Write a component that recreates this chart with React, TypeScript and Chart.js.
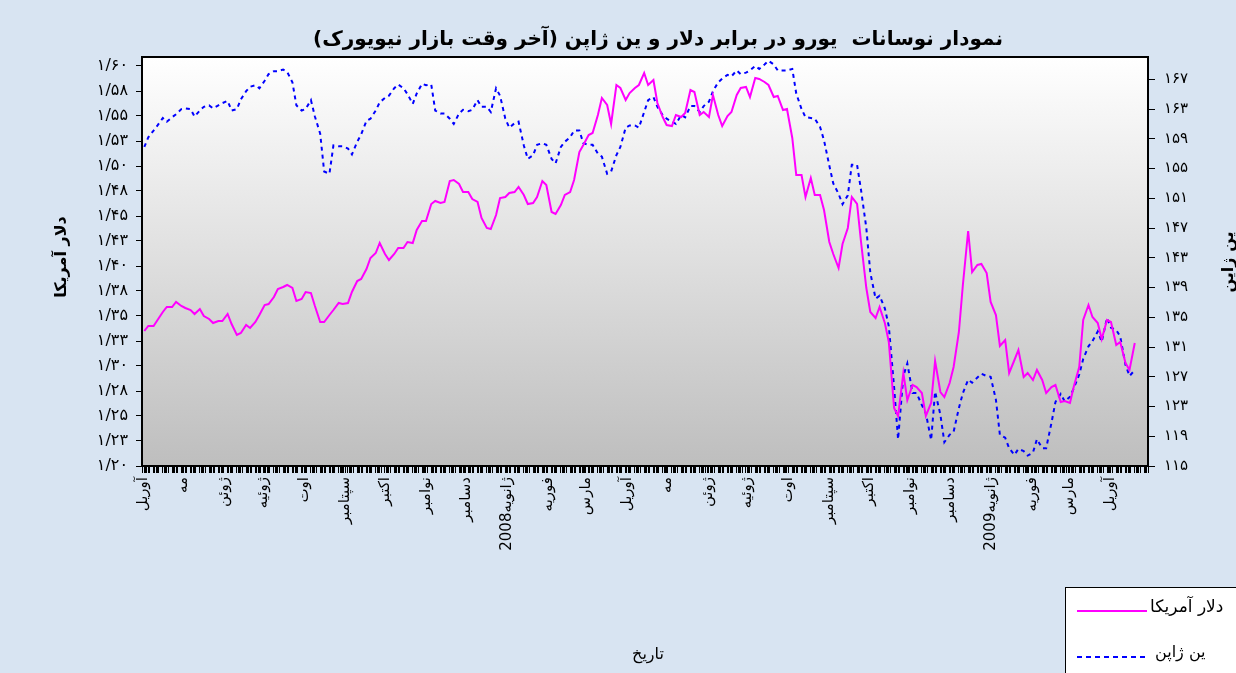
import React, { useEffect, useRef } from 'react';
import { Chart, registerables } from 'chart.js';

Chart.register(...registerables);

const TITLE = 'نمودار نوسانات  یورو در برابر دلار و ین ژاپن (آخر وقت بازار نیویورک)';
const X_TITLE = 'تاریخ';
const LEFT_TITLE = 'دلار آمریکا';
const RIGHT_TITLE = 'ین ژاپن';
const SERIES_NAMES = ['دلار آمریکا', 'ین ژاپن'];

// Monday / Thursday observations
const dates = [
  '2007-04-02', '2007-04-05', '2007-04-09', '2007-04-12', '2007-04-16', '2007-04-19', '2007-04-23', '2007-04-26',
  '2007-04-30', '2007-05-03', '2007-05-07', '2007-05-10', '2007-05-14', '2007-05-17', '2007-05-21', '2007-05-24',
  '2007-05-28', '2007-05-31', '2007-06-04', '2007-06-07', '2007-06-11', '2007-06-14', '2007-06-18', '2007-06-21',
  '2007-06-25', '2007-06-28', '2007-07-02', '2007-07-05', '2007-07-09', '2007-07-12', '2007-07-16', '2007-07-19',
  '2007-07-23', '2007-07-26', '2007-07-30', '2007-08-02', '2007-08-06', '2007-08-09', '2007-08-13', '2007-08-16',
  '2007-08-20', '2007-08-23', '2007-08-27', '2007-08-30', '2007-09-03', '2007-09-06', '2007-09-10', '2007-09-13',
  '2007-09-17', '2007-09-20', '2007-09-24', '2007-09-27', '2007-10-01', '2007-10-04', '2007-10-08', '2007-10-11',
  '2007-10-15', '2007-10-18', '2007-10-22', '2007-10-25', '2007-10-29', '2007-11-01', '2007-11-05', '2007-11-08',
  '2007-11-12', '2007-11-15', '2007-11-19', '2007-11-22', '2007-11-26', '2007-11-29', '2007-12-03', '2007-12-06',
  '2007-12-10', '2007-12-13', '2007-12-17', '2007-12-20', '2007-12-24', '2007-12-27', '2007-12-31', '2008-01-03',
  '2008-01-07', '2008-01-10', '2008-01-14', '2008-01-17', '2008-01-21', '2008-01-24', '2008-01-28', '2008-01-31',
  '2008-02-04', '2008-02-07', '2008-02-11', '2008-02-14', '2008-02-18', '2008-02-21', '2008-02-25', '2008-02-28',
  '2008-03-03', '2008-03-06', '2008-03-10', '2008-03-13', '2008-03-17', '2008-03-20', '2008-03-24', '2008-03-27',
  '2008-03-31', '2008-04-03', '2008-04-07', '2008-04-10', '2008-04-14', '2008-04-17', '2008-04-21', '2008-04-24',
  '2008-04-28', '2008-05-01', '2008-05-05', '2008-05-08', '2008-05-12', '2008-05-15', '2008-05-19', '2008-05-22',
  '2008-05-26', '2008-05-29', '2008-06-02', '2008-06-05', '2008-06-09', '2008-06-12', '2008-06-16', '2008-06-19',
  '2008-06-23', '2008-06-26', '2008-06-30', '2008-07-03', '2008-07-07', '2008-07-10', '2008-07-14', '2008-07-17',
  '2008-07-21', '2008-07-24', '2008-07-28', '2008-07-31', '2008-08-04', '2008-08-07', '2008-08-11', '2008-08-14',
  '2008-08-18', '2008-08-21', '2008-08-25', '2008-08-28', '2008-09-01', '2008-09-04', '2008-09-08', '2008-09-11',
  '2008-09-15', '2008-09-18', '2008-09-22', '2008-09-25', '2008-09-29', '2008-10-02', '2008-10-06', '2008-10-09',
  '2008-10-13', '2008-10-16', '2008-10-20', '2008-10-23', '2008-10-27', '2008-10-30', '2008-11-03', '2008-11-06',
  '2008-11-10', '2008-11-13', '2008-11-17', '2008-11-20', '2008-11-24', '2008-11-27', '2008-12-01', '2008-12-04',
  '2008-12-08', '2008-12-11', '2008-12-15', '2008-12-18', '2008-12-22', '2008-12-25', '2008-12-29', '2009-01-01',
  '2009-01-05', '2009-01-08', '2009-01-12', '2009-01-15', '2009-01-19', '2009-01-22', '2009-01-26', '2009-01-29',
  '2009-02-02', '2009-02-05', '2009-02-09', '2009-02-12', '2009-02-16', '2009-02-19', '2009-02-23', '2009-02-26',
  '2009-03-02', '2009-03-05', '2009-03-09', '2009-03-12', '2009-03-16', '2009-03-19', '2009-03-23', '2009-03-26',
  '2009-03-30', '2009-04-02', '2009-04-06', '2009-04-09', '2009-04-13', '2009-04-16', '2009-04-20',
];

const usd = [
  1.335, 1.340, 1.340, 1.346, 1.354, 1.359, 1.359, 1.364,
  1.360, 1.358, 1.356, 1.352, 1.357, 1.350, 1.347, 1.343,
  1.345, 1.345, 1.352, 1.342, 1.331, 1.333, 1.341, 1.338,
  1.344, 1.351, 1.361, 1.362, 1.369, 1.377, 1.379, 1.381,
  1.378, 1.365, 1.367, 1.374, 1.373, 1.360, 1.344, 1.344,
  1.351, 1.356, 1.363, 1.362, 1.363, 1.374, 1.385, 1.387,
  1.397, 1.408, 1.413, 1.423, 1.412, 1.406, 1.412, 1.418,
  1.418, 1.424, 1.423, 1.436, 1.445, 1.445, 1.462, 1.465,
  1.463, 1.464, 1.485, 1.486, 1.482, 1.474, 1.474, 1.467,
  1.464, 1.448, 1.438, 1.437, 1.451, 1.468, 1.469, 1.473,
  1.474, 1.479, 1.471, 1.462, 1.463, 1.469, 1.485, 1.481,
  1.454, 1.452, 1.461, 1.471, 1.474, 1.486, 1.514, 1.521,
  1.531, 1.533, 1.551, 1.568, 1.561, 1.542, 1.581, 1.578,
  1.566, 1.573, 1.578, 1.581, 1.593, 1.581, 1.586, 1.563,
  1.549, 1.541, 1.540, 1.551, 1.549, 1.553, 1.576, 1.574,
  1.551, 1.554, 1.549, 1.571, 1.551, 1.540, 1.550, 1.554,
  1.571, 1.578, 1.579, 1.569, 1.588, 1.587, 1.584, 1.581,
  1.569, 1.570, 1.556, 1.557, 1.528, 1.491, 1.491, 1.469,
  1.488, 1.471, 1.471, 1.456, 1.424, 1.412, 1.398, 1.422,
  1.438, 1.469, 1.462, 1.424, 1.378, 1.354, 1.348, 1.359,
  1.343, 1.324, 1.258, 1.250, 1.293, 1.266, 1.281, 1.279,
  1.273, 1.250, 1.263, 1.305, 1.274, 1.269, 1.283, 1.299,
  1.334, 1.381, 1.435, 1.394, 1.401, 1.402, 1.393, 1.364,
  1.351, 1.320, 1.326, 1.293, 1.306, 1.316, 1.289, 1.293,
  1.286, 1.296, 1.286, 1.273, 1.279, 1.281, 1.264, 1.265,
  1.263, 1.280, 1.299, 1.346, 1.361, 1.349, 1.343, 1.327,
  1.346, 1.344, 1.321, 1.324, 1.303, 1.296, 1.323,
];

const jpy = [
  157.9, 159.2, 160.1, 160.8, 161.8, 161.3, 161.9, 162.3,
  163.0, 163.1, 163.0, 162.0, 162.8, 163.3, 163.5, 163.1,
  163.5, 163.8, 164.1, 162.8, 163.0, 164.3, 165.4, 166.0,
  166.2, 165.8, 166.8, 167.7, 168.1, 168.1, 168.3, 168.0,
  166.6, 163.5, 162.8, 163.0, 164.2, 162.0, 159.7, 154.6,
  154.3, 158.1, 158.0, 158.0, 157.7, 156.9, 158.6, 159.6,
  161.4, 161.7, 162.8, 163.9, 164.5, 164.8, 165.8, 166.3,
  165.8, 165.0, 163.7, 165.1, 166.4, 166.2, 166.3, 162.8,
  162.4, 162.4, 161.7, 161.0, 162.4, 162.9, 162.7, 162.9,
  164.2, 163.3, 163.3, 162.6, 165.8, 164.8, 161.7, 160.5,
  161.1, 161.3, 158.1, 156.3, 156.8, 158.2, 158.4, 158.2,
  156.3, 155.7, 157.9, 158.6, 159.2, 160.1, 160.1, 158.4,
  158.2, 158.2, 157.0, 156.6, 154.3, 154.6, 156.8, 157.9,
  160.5, 160.8, 160.8, 160.5, 162.6, 164.2, 164.6, 163.3,
  162.2, 161.7, 161.3, 161.0, 162.2, 161.9, 163.4, 163.4,
  162.6, 163.4, 164.0, 165.4, 166.6, 167.1, 167.6, 167.4,
  168.2, 167.7, 167.9, 168.2, 168.8, 168.4, 169.0, 169.5,
  169.0, 168.2, 168.2, 168.2, 168.4, 165.1, 163.0, 161.9,
  161.8, 161.7, 160.6, 158.8, 155.4, 153.0, 151.6, 150.2,
  151.4, 155.5, 155.5, 152.1, 147.0, 141.0, 137.5, 137.9,
  136.2, 133.8, 125.6, 118.6, 127.1, 128.8, 124.8, 124.8,
  123.2, 122.1, 118.5, 125.0, 121.9, 118.2, 119.2, 119.6,
  122.8, 124.8, 126.6, 126.2, 126.9, 127.4, 127.1, 127.0,
  123.9, 119.2, 118.8, 117.4, 116.5, 117.3, 117.0, 116.4,
  116.8, 118.6, 117.4, 117.4, 120.8, 123.6, 124.7, 123.7,
  124.3, 125.5, 127.3, 129.4, 131.1, 131.8, 133.1, 131.7,
  134.9, 133.6, 133.3, 132.4, 128.6, 127.1, 127.9,
];

const monthDates = [
  '2007-04-01', '2007-05-01', '2007-06-01', '2007-07-01', '2007-08-01', '2007-09-01',
  '2007-10-01', '2007-11-01', '2007-12-01', '2008-01-01', '2008-02-01', '2008-03-01',
  '2008-04-01', '2008-05-01', '2008-06-01', '2008-07-01', '2008-08-01', '2008-09-01',
  '2008-10-01', '2008-11-01', '2008-12-01', '2009-01-01', '2009-02-01', '2009-03-01',
  '2009-04-01',
];
const monthLabels = [
  'آوریل', 'مه', 'ژوئن', 'ژوئیه', 'اوت', 'سپتامبر',
  'اکتبر', 'نوامبر', 'دسامبر', 'ژانویه2008', 'فوریه', 'مارس',
  'آوریل', 'مه', 'ژوئن', 'ژوئیه', 'اوت', 'سپتامبر',
  'اکتبر', 'نوامبر', 'دسامبر', 'ژانویه2009', 'فوریه', 'مارس',
  'آوریل',
];

const leftTickValues = [1.2, 1.225, 1.25, 1.275, 1.3, 1.325, 1.35, 1.375, 1.4, 1.425, 1.45, 1.475, 1.5, 1.525, 1.55, 1.575, 1.6];
const leftTickLabels = ['۱/۲۰', '۱/۲۳', '۱/۲۵', '۱/۲۸', '۱/۳۰', '۱/۳۳', '۱/۳۵', '۱/۳۸', '۱/۴۰', '۱/۴۳', '۱/۴۵', '۱/۴۸', '۱/۵۰', '۱/۵۳', '۱/۵۵', '۱/۵۸', '۱/۶۰'];
const rightTickValues = [115, 119, 123, 127, 131, 135, 139, 143, 147, 151, 155, 159, 163, 167];
const rightTickLabels = ['۱۱۵', '۱۱۹', '۱۲۳', '۱۲۷', '۱۳۱', '۱۳۵', '۱۳۹', '۱۴۳', '۱۴۷', '۱۵۱', '۱۵۵', '۱۵۹', '۱۶۳', '۱۶۷'];

const FONT = '"DejaVu Sans", Arial, sans-serif';
const ORIGIN = Date.UTC(2007, 3, 1);
const dayOf = (s: string) => {
  const [y, m, d] = s.split('-').map(Number);
  return Math.round((Date.UTC(y, m - 1, d) - ORIGIN) / 86400000);
};
const X_MIN = -0.75;
const X_MAX = 760;

const monthDays = monthDates.map(dayOf);
const xTickDays: number[] = [];
for (let d = 0; d <= X_MAX; d++) {
  const wd = d % 7;
  if ((wd >= 1 && wd <= 5) || monthDays.includes(d)) xTickDays.push(d);
}

const decor = {
  id: 'decor',
  beforeDraw(chart: any) {
    const { ctx, width, height, chartArea: a } = chart;
    ctx.save();
    ctx.fillStyle = '#d8e4f2';
    ctx.fillRect(0, 0, width, height);
    const g = ctx.createLinearGradient(0, a.top, 0, a.bottom);
    g.addColorStop(0, '#ffffff');
    g.addColorStop(1, '#bebebe');
    ctx.fillStyle = g;
    ctx.fillRect(a.left, a.top, a.right - a.left, a.bottom - a.top);
    ctx.restore();
  },
  afterDraw(chart: any) {
    const { ctx, chartArea: a } = chart;
    ctx.save();
    ctx.strokeStyle = '#000';
    ctx.lineWidth = 2;
    ctx.strokeRect(a.left, a.top, a.right - a.left, a.bottom - a.top);

    ctx.direction = 'rtl';
    ctx.fillStyle = '#000';
    ctx.textBaseline = 'middle';
    ctx.textAlign = 'center';
    ctx.font = `bold 20px ${FONT}`;
    ctx.fillText(TITLE, 658, 40);

    ctx.font = `16px ${FONT}`;
    ctx.fillText(X_TITLE, 648, 655);

    ctx.font = `bold 16px ${FONT}`;
    ctx.save();
    ctx.translate(62, 257);
    ctx.rotate(-Math.PI / 2);
    ctx.fillText(LEFT_TITLE, 0, 0);
    ctx.restore();
    ctx.save();
    ctx.translate(1229, 262);
    ctx.rotate(-Math.PI / 2);
    ctx.fillText(RIGHT_TITLE, 0, 0);
    ctx.restore();

    // legend
    ctx.fillStyle = '#ffffff';
    ctx.fillRect(1065, 587, 200, 120);
    ctx.strokeStyle = '#000';
    ctx.lineWidth = 1;
    ctx.strokeRect(1065.5, 587.5, 200, 120);
    ctx.lineWidth = 2;
    ctx.strokeStyle = '#ff00ff';
    ctx.beginPath();
    ctx.moveTo(1077, 611);
    ctx.lineTo(1147, 611);
    ctx.stroke();
    ctx.strokeStyle = '#0000ff';
    ctx.setLineDash([5, 4]);
    ctx.beginPath();
    ctx.moveTo(1077, 657);
    ctx.lineTo(1145, 657);
    ctx.stroke();
    ctx.setLineDash([]);
    ctx.fillStyle = '#000';
    ctx.font = `17px ${FONT}`;
    ctx.textAlign = 'left';
    ctx.fillText(SERIES_NAMES[0], 1150, 608);
    ctx.font = `16px ${FONT}`;
    ctx.fillText(SERIES_NAMES[1], 1155, 653);
    ctx.restore();
  },
};

export default function App() {
  const ref = useRef<HTMLCanvasElement | null>(null);
  useEffect(() => {
    if (!ref.current) return;
    const chart = new Chart(ref.current, {
      type: 'line',
      data: {
        datasets: [
          {
            label: SERIES_NAMES[0],
            data: dates.map((d, i) => ({ x: dayOf(d), y: usd[i] })),
            yAxisID: 'y',
            borderColor: '#ff00ff',
            borderWidth: 2,
            pointRadius: 0,
            tension: 0,
            fill: false,
          },
          {
            label: SERIES_NAMES[1],
            data: dates.map((d, i) => ({ x: dayOf(d), y: jpy[i] })),
            yAxisID: 'y1',
            borderColor: '#0000ff',
            borderWidth: 2,
            borderDash: [4, 4],
            pointRadius: 0,
            tension: 0,
            fill: false,
          },
        ],
      },
      options: {
        animation: false,
        responsive: false,
        maintainAspectRatio: false,
        layout: { padding: { top: 57, left: 0, right: 0, bottom: 0 } },
        plugins: { legend: { display: false }, tooltip: { enabled: false }, title: { display: false } },
        scales: {
          x: {
            type: 'linear',
            position: 'bottom',
            min: X_MIN,
            max: X_MAX,
            grid: { drawOnChartArea: false, drawTicks: true, tickLength: 7, color: '#000', lineWidth: 1 },
            border: { display: true, color: '#000', width: 2 },
            ticks: {
              autoSkip: false,
              minRotation: 90,
              maxRotation: 90,
              padding: 4,
              color: '#000',
              font: { family: FONT, size: 15 },
              callback: (v: any) => {
                const i = monthDays.indexOf(Number(v));
                return i >= 0 ? monthLabels[i] : '';
              },
            },
            afterBuildTicks: (s: any) => {
              s.ticks = xTickDays.map((v) => ({ value: v }));
            },
            afterFit: (s: any) => {
              s.height = 207;
              s.paddingLeft = 0;
              s.paddingRight = 0;
            },
          },
          y: {
            type: 'linear',
            position: 'left',
            min: 1.2,
            max: 1.609,
            grid: { drawOnChartArea: false, drawTicks: true, tickLength: 6, color: '#000' },
            border: { display: true, color: '#000', width: 2 },
            ticks: {
              padding: 8,
              color: '#000',
              font: { family: FONT, size: 16 },
              callback: (_v: any, i: number) => leftTickLabels[i],
            },
            afterBuildTicks: (s: any) => {
              s.ticks = leftTickValues.map((v) => ({ value: v }));
            },
            afterFit: (s: any) => {
              s.width = 142;
              s.paddingTop = 0;
              s.paddingBottom = 0;
            },
          },
          y1: {
            type: 'linear',
            position: 'right',
            min: 115,
            max: 170,
            grid: { drawOnChartArea: false, drawTicks: true, tickLength: 7, color: '#000' },
            border: { display: true, color: '#000', width: 2 },
            ticks: {
              padding: 9,
              color: '#000',
              font: { family: FONT, size: 15 },
              callback: (_v: any, i: number) => rightTickLabels[i],
            },
            afterBuildTicks: (s: any) => {
              s.ticks = rightTickValues.map((v) => ({ value: v }));
            },
            afterFit: (s: any) => {
              s.width = 88;
              s.paddingTop = 0;
              s.paddingBottom = 0;
            },
          },
        },
      },
      plugins: [decor],
    } as any);
    return () => chart.destroy();
  }, []);
  return (
    <div style={{ position: 'fixed', left: 0, top: 0, width: 1236, height: 673 }}>
      <canvas ref={ref} width={1236} height={673} style={{ display: 'block', width: 1236, height: 673 }} />
    </div>
  );
}
